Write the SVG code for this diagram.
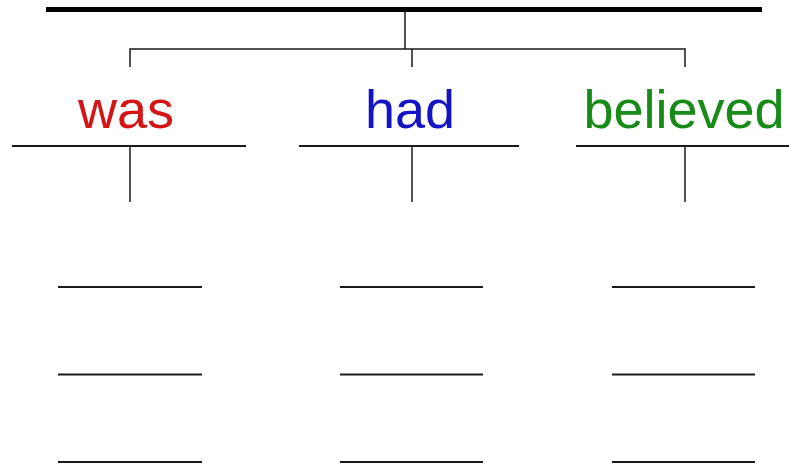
<svg xmlns="http://www.w3.org/2000/svg" width="789" height="467" viewBox="0 0 789 467">
<style>
.thick{stroke:#000;stroke-width:5;fill:none}
.conn{stroke:#1a1a1a;stroke-width:1.5;fill:none}
.base{stroke:#1a1a1a;stroke-width:2.2;fill:none}
.word{font-family:"Liberation Sans",Arial,sans-serif;font-size:54px;text-anchor:middle}
</style>
<rect width="789" height="467" fill="#fff"/>
<g id="top">
<line class="thick" x1="46" y1="9.5" x2="762" y2="9.5"/>
</g>
<g id="connectors">
<line class="conn" x1="405" y1="10" x2="405" y2="49"/>
<polyline class="conn" points="130,67 130,49 685,49 685,67"/>
<line class="conn" x1="412" y1="49" x2="412" y2="67"/>
<line class="conn" x1="130" y1="146" x2="130" y2="202"/>
<line class="conn" x1="412" y1="146" x2="412" y2="202"/>
<line class="conn" x1="685" y1="146" x2="685" y2="202"/>
</g>
<g id="node-was">
<text class="word" x="126" y="128" fill="#d41515">was</text>
<line class="base" x1="12" y1="146" x2="246" y2="146"/>
<line class="base" x1="58" y1="287" x2="202" y2="287"/>
<line class="base" x1="58" y1="374.5" x2="202" y2="374.5"/>
<line class="base" x1="58" y1="462" x2="202" y2="462"/>
</g>
<g id="node-had">
<text class="word" x="410" y="128" fill="#1414c4">had</text>
<line class="base" x1="299" y1="146" x2="519" y2="146"/>
<line class="base" x1="340" y1="287" x2="483" y2="287"/>
<line class="base" x1="340" y1="374.5" x2="483" y2="374.5"/>
<line class="base" x1="340" y1="462" x2="483" y2="462"/>
</g>
<g id="node-believed">
<text class="word" x="684" y="128" fill="#178a17">believed</text>
<line class="base" x1="576" y1="146" x2="789" y2="146"/>
<line class="base" x1="612" y1="287" x2="755" y2="287"/>
<line class="base" x1="612" y1="374.5" x2="755" y2="374.5"/>
<line class="base" x1="612" y1="462" x2="755" y2="462"/>
</g>
</svg>
